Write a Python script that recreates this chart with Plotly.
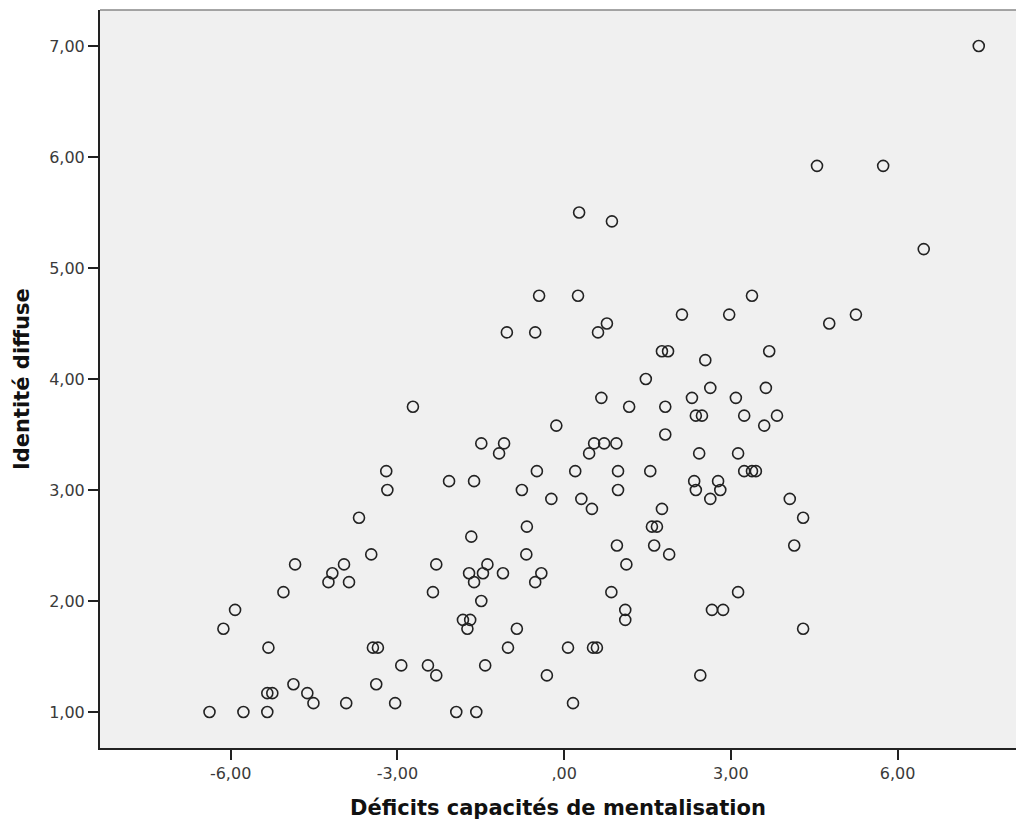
import plotly.graph_objects as go

# Déficits capacités de mentalisation (x) and Identité diffuse (y)
deficits = [
    -6.38, -5.77, -5.34, -1.94, -1.58,
    -4.51, -3.92, -3.04, 0.16,
    -5.34, -5.25, -4.62,
    -4.87, -3.38,
    -2.30, -0.31, 2.45,
    -2.93, -2.45, -1.42,
    -5.32, -3.44, -3.35, -1.01, 0.07, 0.52, 0.59,
    -6.13, -1.74, -0.85, 4.30,
    -1.82, -1.69, 1.10,
    -5.92, 1.10, 2.66, 2.86,
    -1.49,
    -5.05, -2.36, 0.85, 3.13,
    -4.24, -3.87, -1.62, -0.52,
    -4.17, -1.71, -1.46, -1.10, -0.41,
    -4.84, -3.96, -2.30, -1.38, 1.12,
    -3.47, -0.68, 1.89,
    0.95, 1.62, 4.14,
    -1.67,
    -0.67, 1.58, 1.67,
    -3.69, 4.30,
    0.50, 1.76,
    -0.23, 0.31, 2.63, 4.06,
    -3.18, -0.76, 0.97, 2.37, 2.81,
    -2.07, -1.62, 2.34, 2.77,
    -3.20, -0.49, 0.20, 0.97, 1.55, 3.24, 3.38, 3.45,
    -1.17, 0.45, 2.43, 3.13,
    -1.49, -1.08, 0.54, 0.72, 0.94,
    1.82,
    -0.14, 3.60,
    2.37, 2.48, 3.24, 3.83,
    -2.72, 1.17, 1.82,
    0.67, 2.30, 3.09,
    2.63, 3.63,
    1.47,
    2.54,
    1.76, 1.87, 3.69,
    -1.03, -0.52, 0.61,
    0.77, 4.77,
    2.12, 2.97, 5.25,
    -0.45, 0.25, 3.38,
    6.47,
    0.86,
    0.27,
    4.55, 5.74,
    7.46,
]

identite = [
    1.00, 1.00, 1.00, 1.00, 1.00,
    1.08, 1.08, 1.08, 1.08,
    1.17, 1.17, 1.17,
    1.25, 1.25,
    1.33, 1.33, 1.33,
    1.42, 1.42, 1.42,
    1.58, 1.58, 1.58, 1.58, 1.58, 1.58, 1.58,
    1.75, 1.75, 1.75, 1.75,
    1.83, 1.83, 1.83,
    1.92, 1.92, 1.92, 1.92,
    2.00,
    2.08, 2.08, 2.08, 2.08,
    2.17, 2.17, 2.17, 2.17,
    2.25, 2.25, 2.25, 2.25, 2.25,
    2.33, 2.33, 2.33, 2.33, 2.33,
    2.42, 2.42, 2.42,
    2.50, 2.50, 2.50,
    2.58,
    2.67, 2.67, 2.67,
    2.75, 2.75,
    2.83, 2.83,
    2.92, 2.92, 2.92, 2.92,
    3.00, 3.00, 3.00, 3.00, 3.00,
    3.08, 3.08, 3.08, 3.08,
    3.17, 3.17, 3.17, 3.17, 3.17, 3.17, 3.17, 3.17,
    3.33, 3.33, 3.33, 3.33,
    3.42, 3.42, 3.42, 3.42, 3.42,
    3.50,
    3.58, 3.58,
    3.67, 3.67, 3.67, 3.67,
    3.75, 3.75, 3.75,
    3.83, 3.83, 3.83,
    3.92, 3.92,
    4.00,
    4.17,
    4.25, 4.25, 4.25,
    4.42, 4.42, 4.42,
    4.50, 4.50,
    4.58, 4.58, 4.58,
    4.75, 4.75, 4.75,
    5.17,
    5.42,
    5.50,
    5.92, 5.92,
    7.00,
]

x_tickvals = [-6, -3, 0, 3, 6]
x_ticktext = ["-6,00", "-3,00", ",00", "3,00", "6,00"]
y_tickvals = [1, 2, 3, 4, 5, 6, 7]
y_ticktext = ["1,00", "2,00", "3,00", "4,00", "5,00", "6,00", "7,00"]

x_title = "Déficits capacités de mentalisation"
y_title = "Identité diffuse"

fig = go.Figure()
fig.add_trace(go.Scatter(
    x=deficits, y=identite, mode="markers",
    marker=dict(symbol="circle-open", size=11, color="#222222",
                line=dict(width=1.6, color="#222222")),
    hoverinfo="x+y", showlegend=False,
))

axis_common = dict(
    showgrid=False, zeroline=False, showline=True, linecolor="#222222", linewidth=2,
    ticks="outside", ticklen=10, tickwidth=2, tickcolor="#222222",
    tickfont=dict(family="DejaVu Sans", size=16, color="#3a3a3a"),
)

fig.update_layout(
    width=1016, height=825,
    margin=dict(l=100, r=0, t=10, b=77),
    paper_bgcolor="white", plot_bgcolor="#F0F0F0",
    xaxis=dict(range=[-8.35, 8.13], tickvals=x_tickvals, ticktext=x_ticktext, **axis_common),
    yaxis=dict(range=[0.676, 7.324], tickvals=y_tickvals, ticktext=y_ticktext, **axis_common),
    shapes=[dict(type="line", xref="paper", yref="paper", x0=0, x1=1, y0=1, y1=1,
                 line=dict(color="#888888", width=1.5))],
    annotations=[
        dict(text=x_title, xref="paper", yref="paper", x=0.5, y=0, yshift=-60,
             xanchor="center", yanchor="middle", showarrow=False,
             font=dict(family="DejaVu Sans", size=21, color="#111111", weight="bold")),
        dict(text=y_title, xref="paper", yref="paper", x=0, y=0.5, xshift=-78,
             xanchor="center", yanchor="middle", showarrow=False, textangle=-90,
             font=dict(family="DejaVu Sans", size=21, color="#111111", weight="bold")),
    ],
)

fig.write_html("out.html")
